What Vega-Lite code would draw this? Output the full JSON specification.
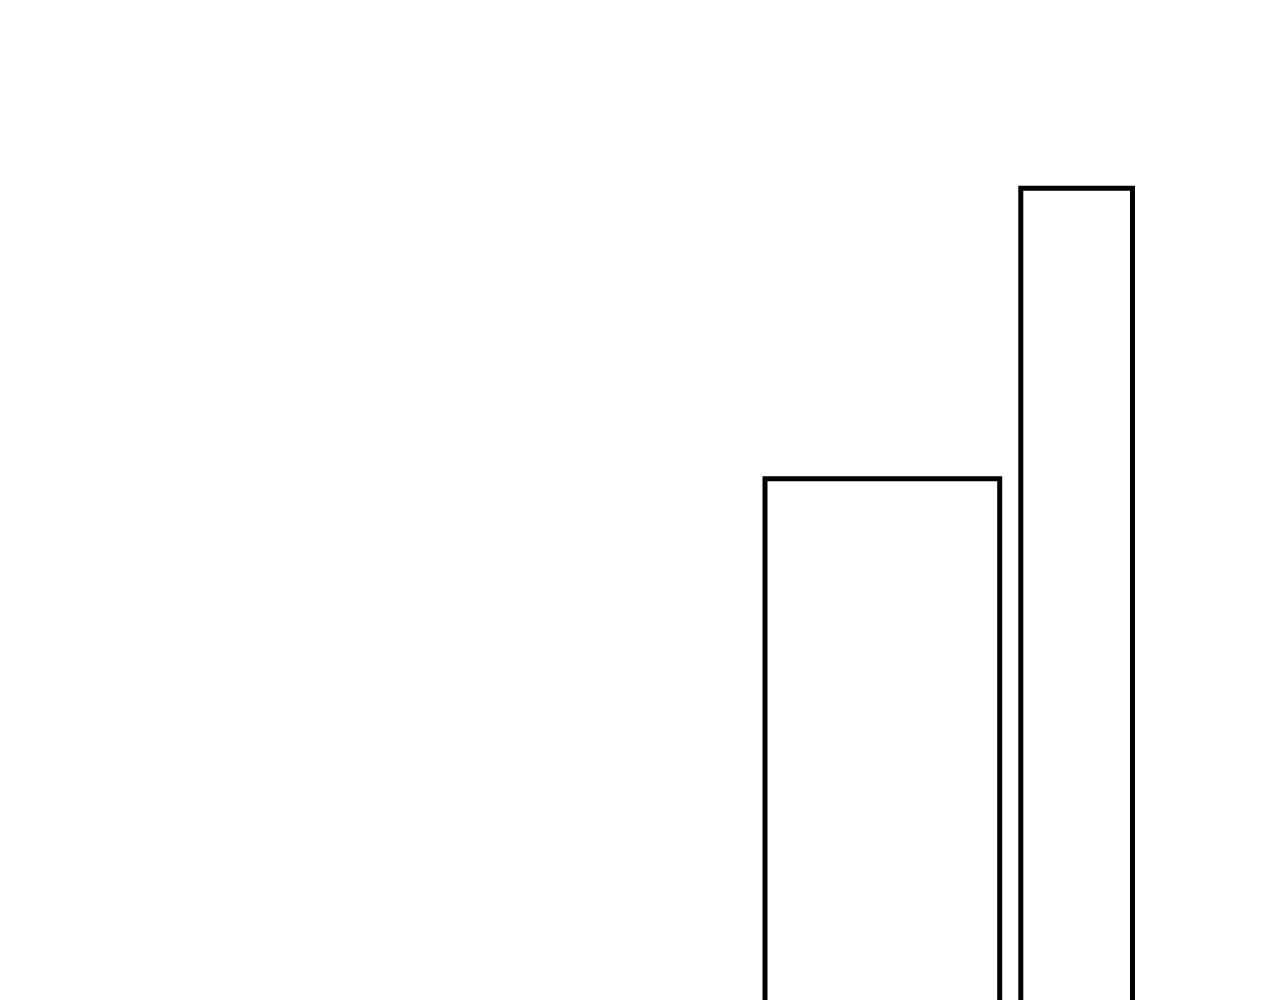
{
  "$schema": "https://vega.github.io/schema/vega-lite/v6.json",
  "width": 1280,
  "height": 1000,
  "autosize": {"type": "fit", "contains": "padding"},
  "padding": 0,
  "background": "white",
  "config": {"view": {"stroke": null}},
  "data": {
    "values": [
      {"start": 76.5, "end": 99.97, "top": 52.13, "bottom": -2},
      {"start": 102.08, "end": 113.25, "top": 81.17, "bottom": -2}
    ]
  },
  "mark": {"type": "rect", "fill": "white", "stroke": "black", "strokeWidth": 5, "clip": true},
  "encoding": {
    "x": {"field": "start", "type": "quantitative", "scale": {"domain": [0, 128], "nice": false, "zero": false}, "axis": null},
    "x2": {"field": "end"},
    "y": {"field": "top", "type": "quantitative", "scale": {"domain": [0, 100], "nice": false, "zero": false}, "axis": null},
    "y2": {"field": "bottom"}
  }
}
